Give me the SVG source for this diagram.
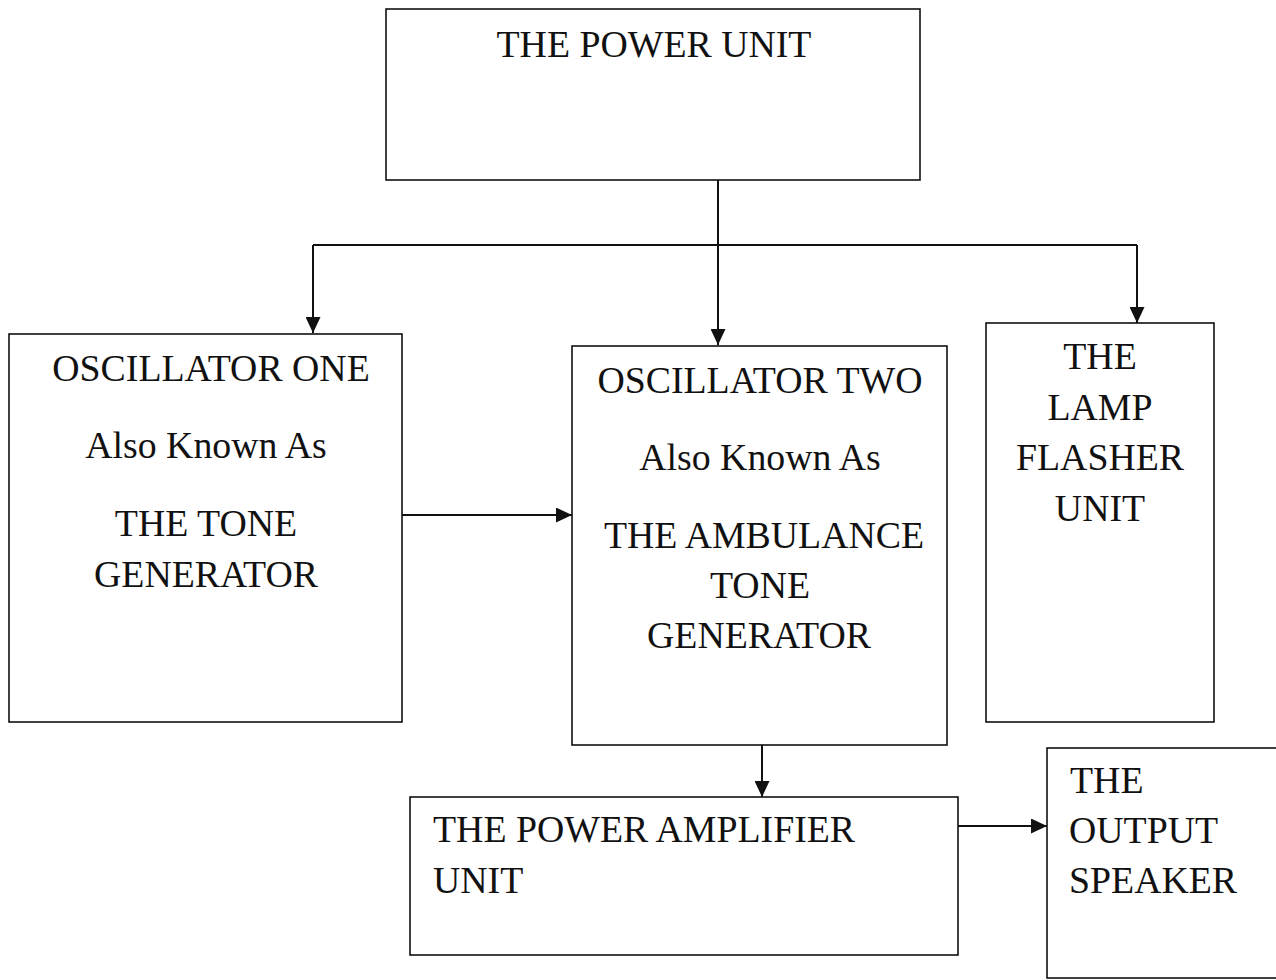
<svg xmlns="http://www.w3.org/2000/svg" width="1276" height="980" viewBox="0 0 1276 980">
<style>
.box{fill:#fff;stroke:#111;stroke-width:1.6}
.t{font-family:"Liberation Serif","Times New Roman",serif;font-size:37.8px;fill:#111}
.c{text-anchor:middle}
.ln{fill:none;stroke:#111;stroke-width:2}
</style>
<defs>
<marker id="ah" markerWidth="16" markerHeight="15" refX="16" refY="7.5" orient="auto" markerUnits="userSpaceOnUse">
<path d="M0,0 L16,7.5 L0,15 Z" fill="#111"/>
</marker>
</defs>
<rect width="1276" height="980" fill="#fff"/>
<g id="connectors">
<path class="ln" d="M718,180 V345" marker-end="url(#ah)"/>
<path class="ln" d="M313,245 H1137"/>
<path class="ln" d="M313,245 V333" marker-end="url(#ah)"/>
<path class="ln" d="M1137,245 V323" marker-end="url(#ah)"/>
<path class="ln" d="M402,515 H572" marker-end="url(#ah)"/>
<path class="ln" d="M762,745 V797" marker-end="url(#ah)"/>
<path class="ln" d="M958,826 H1047" marker-end="url(#ah)"/>
</g>
<g id="power-unit">
<rect class="box" x="386" y="9" width="534" height="171"/>
<text class="t c" x="654" y="57">THE POWER UNIT</text>
</g>
<g id="oscillator-one">
<rect class="box" x="9" y="334" width="393" height="388"/>
<text class="t c" x="211" y="381">OSCILLATOR ONE</text>
<text class="t c" x="206" y="458">Also Known As</text>
<text class="t c" x="206" y="536">THE TONE</text>
<text class="t c" x="206" y="587">GENERATOR</text>
</g>
<g id="oscillator-two">
<rect class="box" x="572" y="346" width="375" height="399"/>
<text class="t c" x="760" y="393">OSCILLATOR TWO</text>
<text class="t c" x="760" y="470">Also Known As</text>
<text class="t c" x="764" y="548">THE AMBULANCE</text>
<text class="t c" x="760" y="598">TONE</text>
<text class="t c" x="759" y="648">GENERATOR</text>
</g>
<g id="lamp-flasher">
<rect class="box" x="986" y="323" width="228" height="399"/>
<text class="t c" x="1100" y="369">THE</text>
<text class="t c" x="1100" y="420">LAMP</text>
<text class="t c" x="1100" y="470">FLASHER</text>
<text class="t c" x="1100" y="521">UNIT</text>
</g>
<g id="power-amplifier">
<rect class="box" x="410" y="797" width="548" height="158"/>
<text class="t" x="433" y="842">THE POWER AMPLIFIER</text>
<text class="t" x="433" y="893">UNIT</text>
</g>
<g id="output-speaker">
<rect class="box" x="1047" y="748" width="240" height="230"/>
<text class="t" x="1070" y="793">THE</text>
<text class="t" x="1069" y="843">OUTPUT</text>
<text class="t" x="1069" y="893">SPEAKER</text>
</g>
</svg>
